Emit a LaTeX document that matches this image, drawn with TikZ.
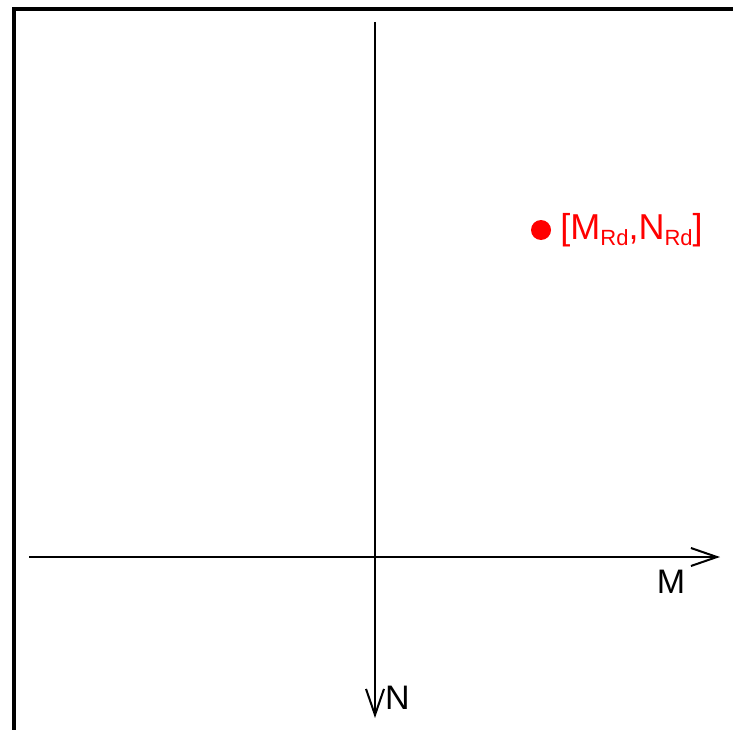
\documentclass[tikz,border=0pt]{standalone}
\usepackage{fontspec}
\setmainfont{Liberation Sans}
\usetikzlibrary{arrows.meta,positioning}
\tikzset{
  axis/.style={-{Straight Barb[length=26pt,width=18pt]}, line width=2pt},
  frameline/.style={line width=4pt},
  axislabel/.style={inner sep=0pt, font=\fontsize{34}{34}\selectfont},
  pointdot/.style={circle, fill=red, minimum size=20pt, inner sep=0pt},
  pointlabel/.style={text=red, inner sep=0pt, font=\fontsize{36}{36}\selectfont}
}
\newcommand{\lowsub}[1]{\raisebox{-6pt}{\fontsize{22}{22}\selectfont #1}}

\begin{document}
\begin{tikzpicture}[x=1pt,y=-1pt]
\useasboundingbox (0,0) rectangle (733,730);
% frame
\draw[frameline] (13.5,740) -- (13.5,9) -- (745,9);
% axes
\coordinate (mstart) at (29,557);
\coordinate (mend) at (720,557);
\coordinate (nstart) at (375,22);
\coordinate (nend) at (375,718);
\draw[axis] (mstart) -- (mend);
\draw[axis] (nstart) -- (nend);
\node[axislabel] (mlabel) at (671,581.5) {M};
\node[axislabel] (nlabel) at (397.5,697.5) {N};
% design point
\node[pointdot] (rd) at (541,230) {};
\node[pointlabel, right=9pt of rd] (rdlabel) {[M\lowsub{Rd},N\lowsub{Rd}]};
\end{tikzpicture}
\end{document}
